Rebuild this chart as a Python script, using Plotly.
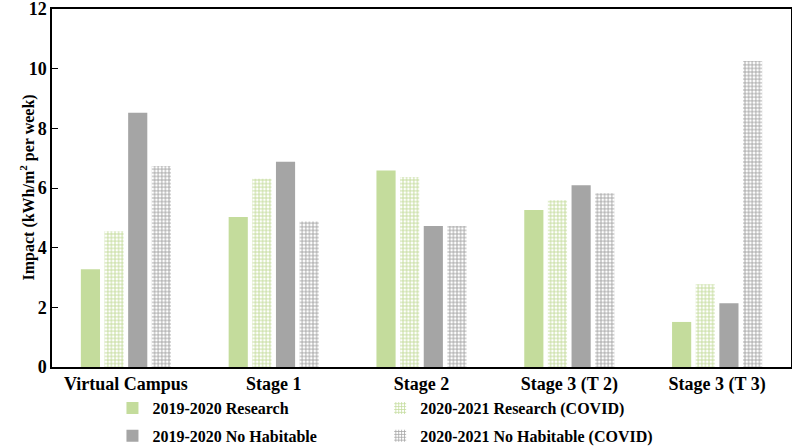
import plotly.graph_objects as go

categories = ["Virtual Campus", "Stage 1", "Stage 2", "Stage 3 (T 2)", "Stage 3 (T 3)"]
research_1920 = [3.28, 5.03, 6.59, 5.26, 1.51]
research_2021 = [4.55, 6.31, 6.37, 5.59, 2.77]
nohab_1920 = [8.52, 6.88, 4.73, 6.09, 2.14]
nohab_2021 = [6.74, 4.88, 4.73, 5.82, 10.26]
series_names = ["2019-2020 Research", "2020-2021 Research (COVID)",
                "2019-2020 No Habitable", "2020-2021 No Habitable (COVID)"]
y_ticks = [0, 2, 4, 6, 8, 10, 12]

GREEN = "#C4DC9C"
GRAY = "#A5A5A5"
FONT = "Times New Roman"

fig = go.Figure()

def add(name, vals, color, patterned, legend_id):
    marker = dict(color=color, line=dict(width=0))
    if patterned:
        marker["pattern"] = dict(shape="+", fgcolor=color, bgcolor="white",
                                 size=3.6, solidity=0.45, fillmode="replace")
    fig.add_trace(go.Bar(x=categories, y=vals, name=name, marker=marker,
                         legend=legend_id, legendgroup=name))

add(series_names[0], research_1920, GREEN, False, "legend")
add(series_names[1], research_2021, GREEN, True, "legend2")
add(series_names[2], nohab_1920, GRAY, False, "legend")
add(series_names[3], nohab_2021, GRAY, True, "legend2")

fig.add_annotation(xref="paper", x=0, xshift=-37, yref="paper", y=0.5,
                   text="<b>Impact (kWh/m<sup>2</sup> per week)</b>", textangle=-90,
                   showarrow=False, font=dict(family=FONT, size=16, color="black"))

legend_style = dict(orientation="v", xref="container", yref="container",
                    xanchor="left", yanchor="top", y=0.125,
                    font=dict(family=FONT, size=16, color="black", weight="bold"),
                    tracegroupgap=4, itemwidth=30, bgcolor="rgba(0,0,0,0)")

fig.update_layout(
    width=792, height=447,
    margin=dict(l=52, r=1, t=9, b=80, autoexpand=False),
    paper_bgcolor="white", plot_bgcolor="white",
    barmode="group", bargap=0.36, bargroupgap=0.19,
    font=dict(family=FONT, color="black"),
    legend=dict(legend_style, x=0.142),
    legend2=dict(legend_style, x=0.48),
    showlegend=True,
)
fig.update_xaxes(range=[-0.5, 4.5], ticks="", showline=True, linecolor="black",
                 linewidth=1.5, mirror=True, showgrid=False, automargin=False,
                 tickangle=0,
                 tickfont=dict(family=FONT, size=18, color="black", weight="bold"))
fig.update_yaxes(range=[0, 12], tickvals=y_ticks,
                 ticks="inside", ticklen=6, tickcolor="black",
                 showline=True, linecolor="black", linewidth=1.5, mirror=True,
                 showgrid=False, zeroline=False, automargin=False,
                 ticklabeloverflow="allow",
                 tickfont=dict(family=FONT, size=18, color="black", weight="bold"))

fig.write_html("out.html", config={"displayModeBar": False},
               post_script="document.body.style.margin='0';")
